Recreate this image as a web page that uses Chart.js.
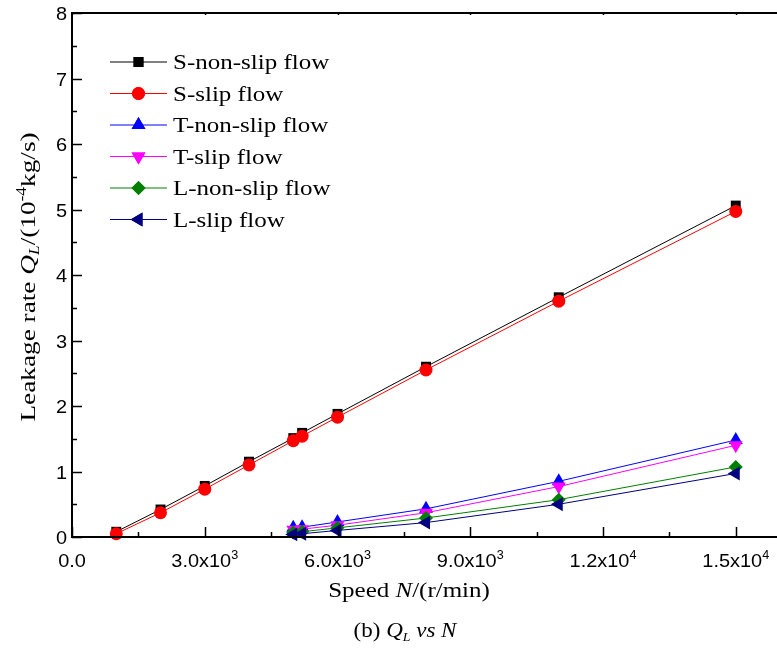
<!DOCTYPE html>
<html>
<head>
<meta charset="utf-8">
<script src="https://cdn.jsdelivr.net/npm/chart.js@4/dist/chart.umd.min.js"></script>
<style>
  html, body { margin: 0; padding: 0; background: #fff; overflow: hidden; }
  #wrap { width: 777px; height: 655px; overflow: hidden; }
  canvas { display: block; }
</style>
</head>
<body>
<div id="wrap"><canvas id="c" width="800" height="655" style="width:800px;height:655px"></canvas></div>
<script>
// Rotational speed N (r/min) and leakage rate Q_L (10^-4 kg/s)
const speedsS = [1000, 2000, 3000, 4000, 5000, 5200, 6000, 8000, 11000, 15000];
const sNonSlip = [0.08, 0.42, 0.78, 1.15, 1.51, 1.59, 1.88, 2.60, 3.66, 5.06];
const sSlip    = [0.05, 0.37, 0.73, 1.10, 1.47, 1.54, 1.83, 2.55, 3.60, 4.97];

const speedsTL = [5000, 5200, 6000, 8000, 11000, 15000];
const tNonSlip = [0.14, 0.15, 0.23, 0.43, 0.85, 1.48];
const tSlip    = [0.11, 0.12, 0.18, 0.37, 0.77, 1.40];
const lNonSlip = [0.07, 0.08, 0.14, 0.29, 0.57, 1.07];
const lSlip    = [0.04, 0.05, 0.10, 0.22, 0.50, 0.97];

const seriesNames = ['S-non-slip flow', 'S-slip flow', 'T-non-slip flow', 'T-slip flow', 'L-non-slip flow', 'L-slip flow'];

// Tick values and labels ("^" marks the exponent)
const xTickValues = [0, 3000, 6000, 9000, 12000, 15000];
const xTickLabels = ['0.0', '3.0x10^3', '6.0x10^3', '9.0x10^3', '1.2x10^4', '1.5x10^4'];
const yTickValues = [0, 1, 2, 3, 4, 5, 6, 7, 8];
const yTickLabels = ['0', '1', '2', '3', '4', '5', '6', '7', '8'];

const SERIF = '"Liberation Serif", "Times New Roman", serif';
const SANS = '"Liberation Sans", Arial, sans-serif';

function pts(xs, ys) { return xs.map((x, i) => ({ x: x, y: ys[i] })); }

const styles = [
  { color: '#000000', point: 'rect',     radius: 7,   rotation: 0 },
  { color: '#ff0000', point: 'circle',   radius: 6.5, rotation: 0 },
  { color: '#0000ff', point: 'triangle', radius: 8,   rotation: 0 },
  { color: '#ff00ff', point: 'triangle', radius: 8,   rotation: 180 },
  { color: '#008000', point: 'rectRot',  radius: 7,   rotation: 0 },
  { color: '#000080', point: 'triangle', radius: 8,   rotation: -90 }
];
const seriesData = [
  pts(speedsS, sNonSlip), pts(speedsS, sSlip),
  pts(speedsTL, tNonSlip), pts(speedsTL, tSlip),
  pts(speedsTL, lNonSlip), pts(speedsTL, lSlip)
];

const datasets = seriesData.map((d, i) => ({
  label: seriesNames[i],
  data: d,
  borderColor: styles[i].color,
  backgroundColor: styles[i].color,
  borderWidth: 1,
  pointStyle: styles[i].point,
  pointRadius: styles[i].radius,
  pointRotation: styles[i].rotation,
  pointBackgroundColor: styles[i].color,
  pointBorderColor: styles[i].color,
  pointBorderWidth: 0,
  tension: 0,
  clip: false,
  order: seriesNames.length - i
}));

// Draw a line of text made of runs (italic / sub / sup), baseline at y.
function drawRuns(ctx, runs, x, y, o) {
  const size = o.size, sx = o.sx || 1;
  const fontFor = r => (r.italic ? 'italic ' : '') + ((r.sub || r.sup) ? Math.round(size * 0.62) : size) + 'px ' + o.family;
  let total = 0;
  const widths = runs.map(r => { ctx.font = fontFor(r); const w = ctx.measureText(r.t).width * sx; total += w; return w; });
  ctx.save();
  ctx.translate(x, y);
  if (o.rotate) ctx.rotate(o.rotate);
  let cx = o.align === 'center' ? -total / 2 : (o.align === 'right' ? -total : 0);
  ctx.fillStyle = o.color || '#000';
  ctx.textAlign = 'left';
  ctx.textBaseline = 'alphabetic';
  runs.forEach((r, i) => {
    ctx.font = fontFor(r);
    const dy = r.sup ? -size * 0.42 : (r.sub ? size * 0.2 : 0);
    ctx.save();
    ctx.translate(cx, dy);
    ctx.scale(sx, 1);
    ctx.fillText(r.t, 0, 0);
    ctx.restore();
    cx += widths[i];
  });
  ctx.restore();
}

function tickRuns(label) {
  const parts = label.split('^');
  const runs = [{ t: parts[0] }];
  if (parts[1]) runs.push({ t: parts[1], sup: true });
  return runs;
}

const axesPlugin = {
  id: 'frameAxes',
  afterDatasetsDraw(chart) {
    const ctx = chart.ctx, a = chart.chartArea;
    const xs = chart.scales.x, ys = chart.scales.y;
    ctx.save();
    ctx.strokeStyle = '#000';
    ctx.lineWidth = 2;
    ctx.lineCap = 'square';
    ctx.beginPath();
    ctx.moveTo(a.right, a.top); ctx.lineTo(a.left, a.top);
    ctx.lineTo(a.left, a.bottom); ctx.lineTo(a.right, a.bottom);
    ctx.lineTo(a.right, a.top);
    ctx.stroke();

    // inward ticks, major and minor
    ctx.lineWidth = 1.5;
    ctx.lineCap = 'butt';
    ctx.beginPath();
    for (let v = 0; v <= 16000; v += 1500) {
      const px = Math.round(xs.getPixelForValue(v)) + 0.5;
      const major = (v % 3000 === 0);
      const len = major ? 10 : 5;
      ctx.moveTo(px, a.bottom); ctx.lineTo(px, a.bottom - len);
      ctx.moveTo(px, a.top); ctx.lineTo(px, a.top + (major ? 2 : 1));
    }
    for (let v = 0; v <= 8; v += 0.5) {
      const py = Math.round(ys.getPixelForValue(v)) + 0.5;
      const major = (v % 1 === 0);
      const len = major ? 10 : 5;
      ctx.moveTo(a.left, py); ctx.lineTo(a.left + len, py);
    }
    ctx.stroke();
    ctx.restore();

    // tick labels
    xTickValues.forEach((v, i) => {
      drawRuns(ctx, tickRuns(xTickLabels[i]), xs.getPixelForValue(v), a.bottom + 30,
        { family: SANS, size: 19, sx: 1.05, align: 'center' });
    });
    yTickValues.forEach((v, i) => {
      drawRuns(ctx, tickRuns(yTickLabels[i]), a.left - 5, ys.getPixelForValue(v) + 7,
        { family: SANS, size: 19, sx: 1.05, align: 'right' });
    });

    // axis titles
    drawRuns(ctx, [{ t: 'Speed ' }, { t: 'N', italic: true }, { t: '/(r/min)' }],
      (a.left + 736) / 2 + 5, 597, { family: SERIF, size: 21, sx: 1.19, align: 'center' });
    drawRuns(ctx, [{ t: 'Leakage rate ' }, { t: 'Q', italic: true }, { t: 'L', italic: true, sub: true },
      { t: '/(10' }, { t: '-4', sup: true }, { t: 'kg/s)' }],
      35, (a.top + a.bottom) / 2 + 2, { family: SERIF, size: 22, sx: 1.24, align: 'center', rotate: -Math.PI / 2 });

    // caption
    drawRuns(ctx, [{ t: '(b) ' }, { t: 'Q', italic: true }, { t: 'L', italic: true, sub: true },
      { t: ' vs', italic: true }, { t: ' ' }, { t: 'N', italic: true }],
      405, 637, { family: SERIF, size: 20, sx: 1.15, align: 'center' });
  }
};

const legendPlugin = {
  id: 'lineLegend',
  afterDraw(chart) {
    const ctx = chart.ctx;
    const rowY = [62, 93.5, 125, 156.5, 188, 219.5];
    seriesNames.forEach((name, i) => {
      const y = rowY[i], s = styles[i];
      ctx.save();
      ctx.strokeStyle = s.color;
      ctx.lineWidth = 1;
      ctx.beginPath();
      ctx.moveTo(110, y); ctx.lineTo(167, y);
      ctx.stroke();
      ctx.fillStyle = s.color;
      Chart.helpers.drawPoint(ctx, { pointStyle: s.point, radius: s.radius, rotation: s.rotation, borderWidth: 0 }, 138.5, y);
      ctx.fill();
      ctx.restore();
      drawRuns(ctx, [{ t: name }], 173, y + 7, { family: SERIF, size: 21, sx: 1.19, align: 'left' });
    });
  }
};

new Chart(document.getElementById('c').getContext('2d'), {
  type: 'line',
  data: { datasets: datasets },
  options: {
    responsive: false,
    animation: false,
    layout: { padding: { left: 72, top: 13, right: 20, bottom: 118 } },
    scales: {
      x: { type: 'linear', min: 0, max: 16000, display: false },
      y: { type: 'linear', min: 0, max: 8, display: false }
    },
    plugins: { legend: { display: false }, tooltip: { enabled: false } }
  },
  plugins: [axesPlugin, legendPlugin]
});
</script>
</body>
</html>
